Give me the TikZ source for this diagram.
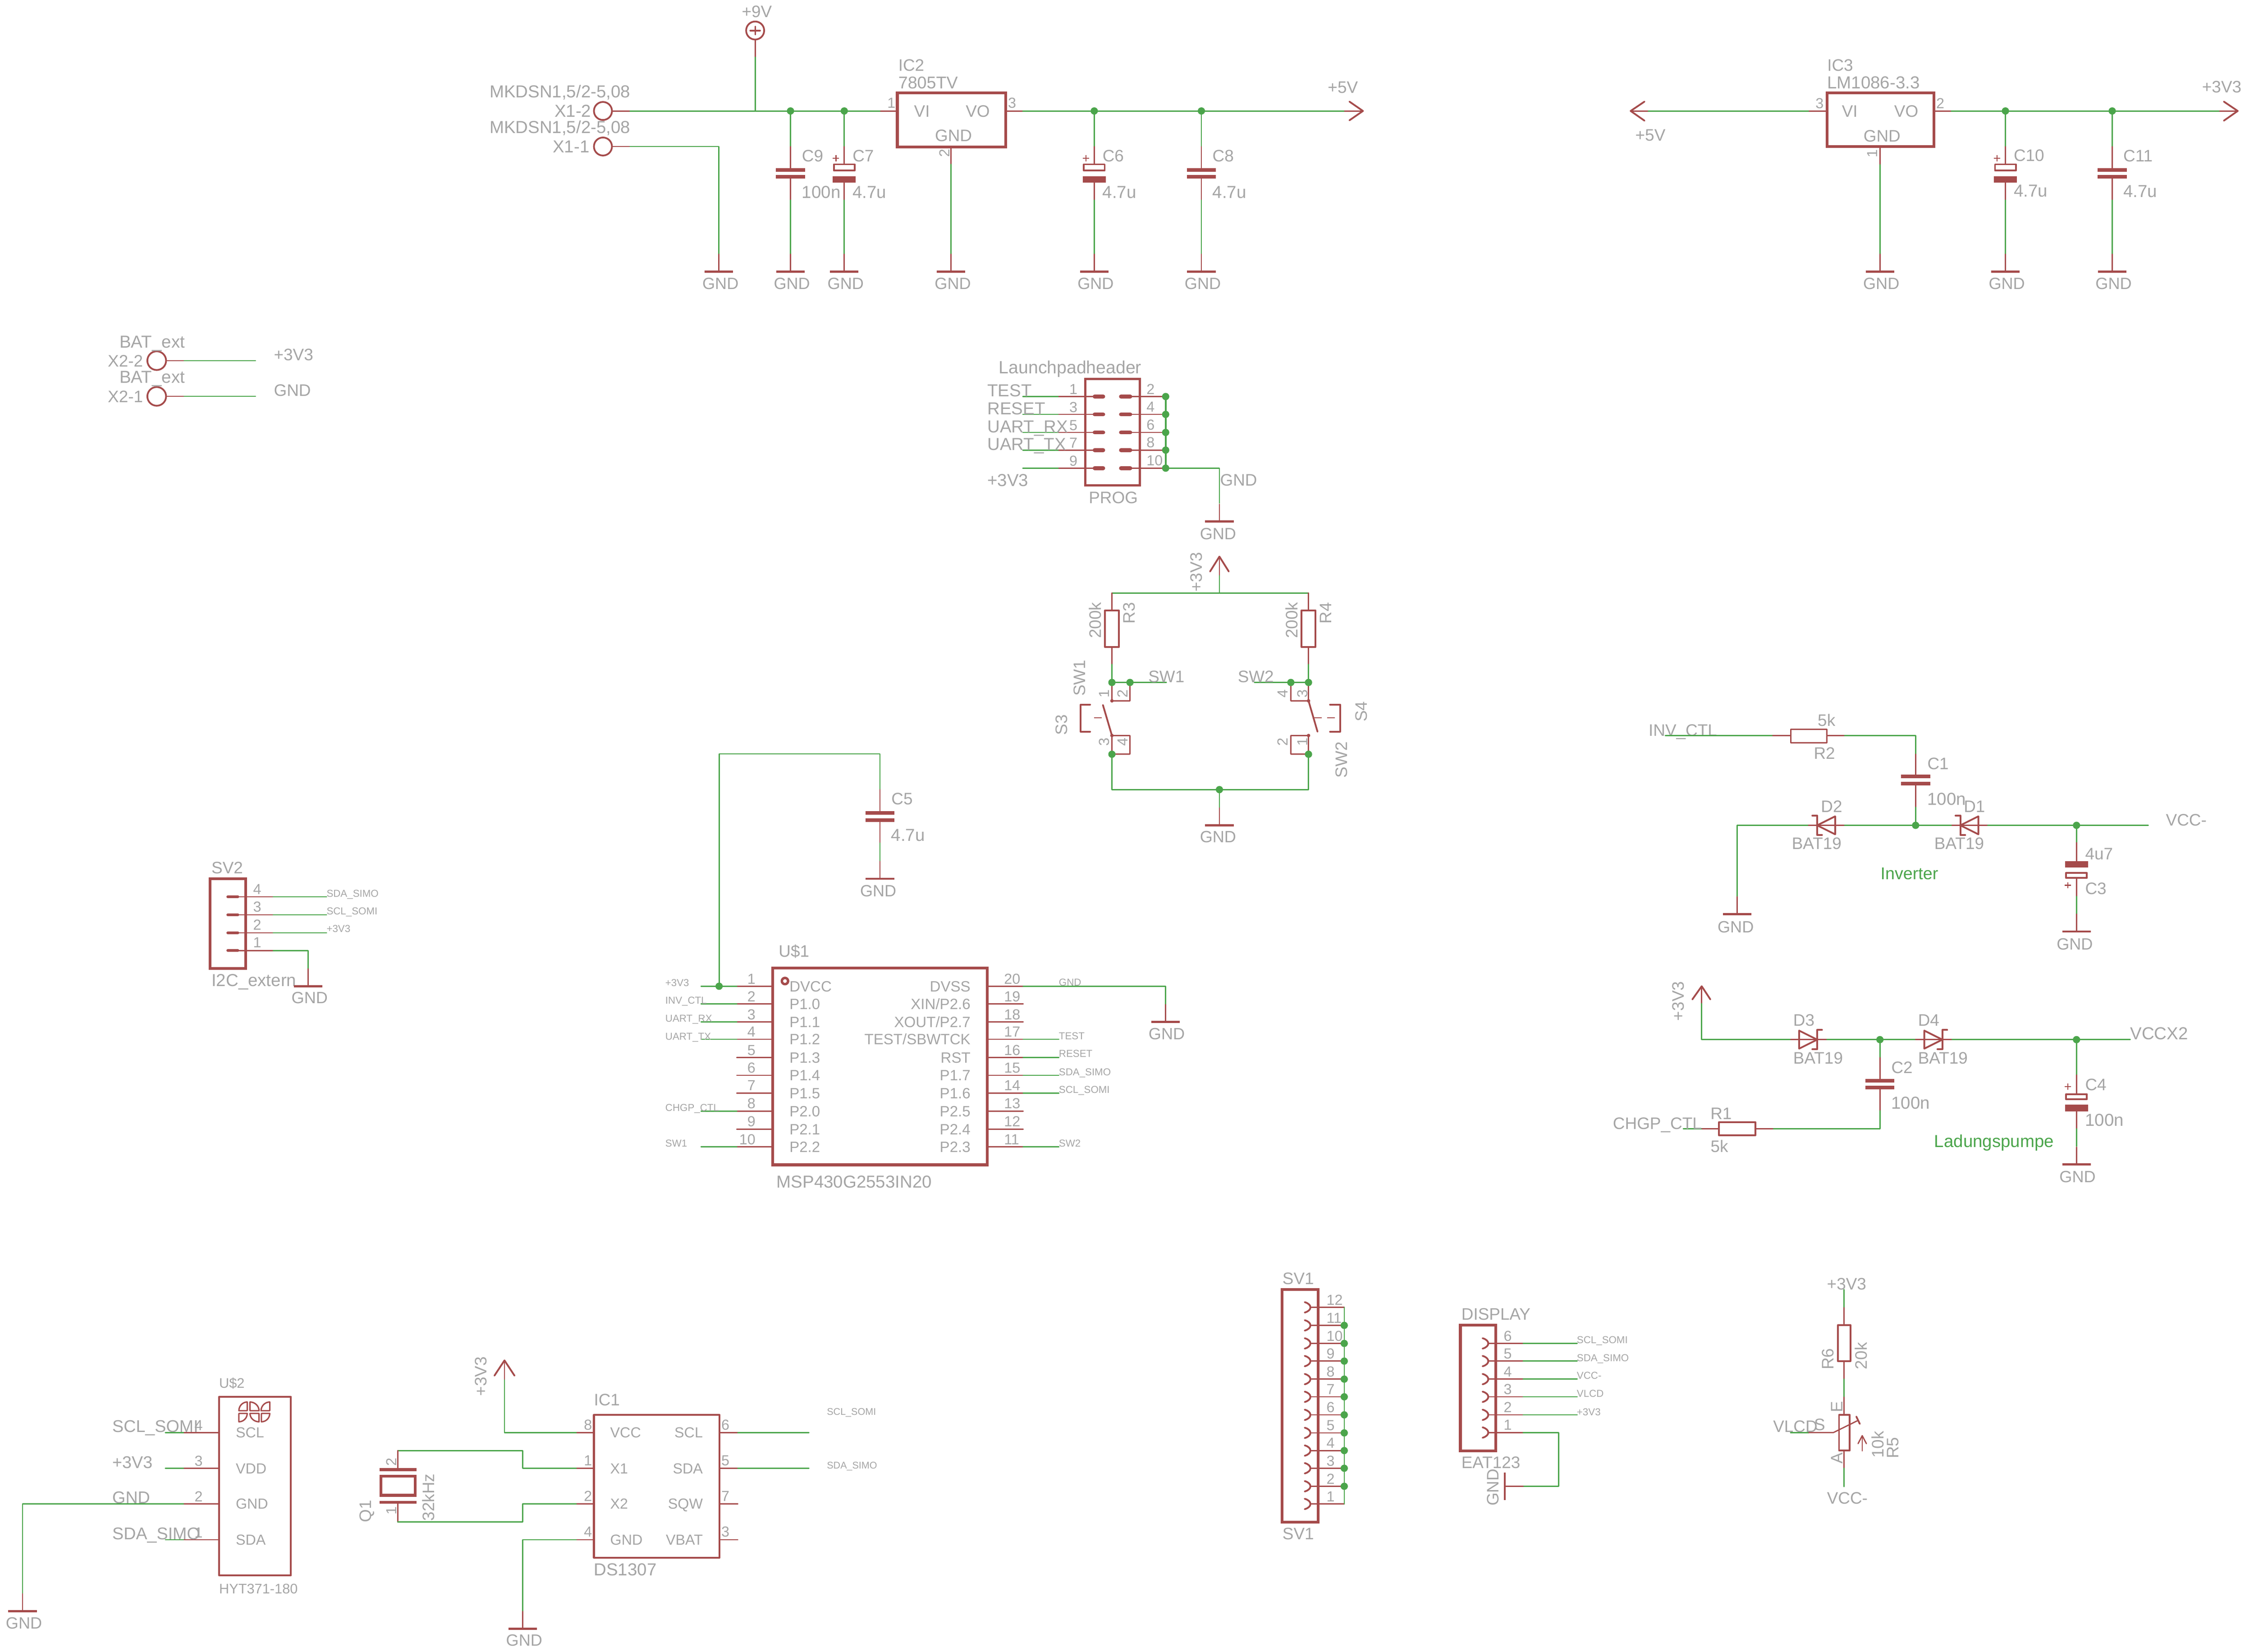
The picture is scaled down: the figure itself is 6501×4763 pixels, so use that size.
\documentclass[tikz,border=0pt]{standalone}
\usepackage{fontspec}
\setmainfont{Liberation Sans}
\definecolor{symred}{RGB}{165,75,75}
\definecolor{netgreen}{RGB}{75,165,75}
\definecolor{txtgray}{RGB}{165,165,165}
\newcounter{lbl}
\tikzset{
  wire/.style={draw=netgreen,line width=3.6,line cap=round,line join=round},
  pinl/.style={draw=symred,line width=3.6,line cap=round,line join=round},
  syma/.style={draw=symred,line width=5,line cap=round,line join=round},
  symb/.style={draw=symred,line width=8,line cap=round,line join=miter},
  plate/.style={draw=symred,line width=10.5},
  junc/.style={circle,fill=netgreen,draw=none,minimum size=21,inner sep=0},
  sdot/.style={circle,fill=symred,draw=none,minimum size=10,inner sep=0},
  txt/.style={inner sep=0,outer sep=0,text=txtgray,text depth=0pt}
}
\newcommand{\Tx}[5][48]{\stepcounter{lbl}\node[txt,anchor=#2,font=\fontsize{#1}{#1}\selectfont,text height=0.716*#1pt] (t\arabic{lbl}) at (#3,#4) {#5};}
\newcommand{\TxG}[4][49]{\stepcounter{lbl}\node[txt,text=netgreen,anchor=west,font=\fontsize{#1}{#1}\selectfont,text height=0.716*#1pt] (t\arabic{lbl}) at (#2,#3) {#4};}
\newcommand{\TxR}[4][48]{\stepcounter{lbl}\node[txt,rotate=90,font=\fontsize{#1}{#1}\selectfont,text height=0.716*#1pt] (t\arabic{lbl}) at (#2,#3) {#4};}
\newcommand{\Jn}[3]{\node[junc] (#1) at (#2,#3) {};}
\newcommand{\PlusS}[2]{\draw[symred,line width=3] (#1-9,#2)--(#1+9,#2);\draw[symred,line width=3] (#1,#2-9)--(#1,#2+9);}
% ground: x, bar y, label x, label y
\newcommand{\Gnd}[4]{\draw[pinl] (#1,#2-50)--(#1,#2);\draw[symred,line width=6] (#1-41,#2)--(#1+41,#2);\Tx[47]{center}{#3}{#4}{GND}}
\newcommand{\Cnp}[3]{\draw[plate] (#1-42,#2)--(#1+42,#2);\draw[plate] (#1-42,#3)--(#1+42,#3);}
% polar cap: x, hollow top, hollow bottom, filled top, filled bottom
\newcommand{\Cpol}[5]{\draw[syma] (#1-30,#2)rectangle(#1+30,#3);\fill[symred] (#1-33,#4)rectangle(#1+33,#5);}
\newcommand{\Dio}[3]{\draw[syma] (#1-52*#3,#2-26)--(#1-52*#3,#2+26)--(#1,#2)--cycle;\draw[syma] (#1+14*#3,#2-28)--(#1,#2-28)--(#1,#2+28)--(#1-14*#3,#2+28);}
\newcommand{\RailNP}[1]{\draw[wire] (#1,320)--(#1,423);\draw[pinl] (#1,423)--(#1,490);\Cnp{#1}{490}{510}\draw[pinl] (#1,510)--(#1,577);\draw[wire] (#1,577)--(#1,733);}
\newcommand{\RailPol}[1]{\draw[wire] (#1,320)--(#1,423);\draw[pinl] (#1,423)--(#1,472);\Cpol{#1}{474}{492}{508}{527}\draw[pinl] (#1,527)--(#1,577);\draw[wire] (#1,577)--(#1,733);\PlusS{#1-24}{456}}
\newcommand{\Sct}[6]{\draw[symred,line width=4,line join=round] (#1,#2)--(#3,#4) .. controls (#3+0.55*#5-0.55*#1,#4+0.55*#6-0.55*#2) and (#5+0.55*#3-0.55*#1,#6+0.55*#4-0.55*#2) .. (#5,#6)--cycle;}
\begin{document}
\begin{tikzpicture}[x=1pt,y=-1pt]
\path[use as bounding box,fill=white] (0,0) rectangle (6501,4763);
%% ---------- IC2 supply
\draw[symb] (2588,268) rectangle (2901,424);
\Tx{west}{2591}{187}{IC2}\Tx[49]{west}{2591}{238}{7805TV}
\Tx{center}{2659}{320}{VI}\Tx{center}{2820}{320}{VO}\Tx{center}{2750}{391}{GND}
\Tx[42]{center}{2571}{297}{1}\Tx[42]{center}{2919}{297}{3}\TxR[42]{2724}{442}{2}
\draw[syma] (1739,320) circle (26);\draw[syma] (1739,422.5) circle (26);
\Tx[50]{west}{1412}{264}{MKDSN1,5/2-5,08}\Tx[50]{west}{1412}{366}{MKDSN1,5/2-5,08}
\Tx[50]{east}{1705}{320}{X1-2}\Tx[50]{east}{1700}{422}{X1-1}
\draw[pinl] (1766,320)--(1817,320);\draw[wire] (1817,320)--(2540,320);\draw[pinl] (2540,320)--(2588,320);
\draw[pinl] (1766,422.5)--(1817,422.5);
\draw[wire] (1817,422.5)--(2073,422.5)--(2073,733);\Gnd{2073}{783}{2078}{817}
\draw[syma] (2178,88) circle (26);\draw[syma] (2164,88)--(2192,88);\draw[pinl] (2178,76)--(2178,100);
\draw[pinl] (2178,114)--(2178,165);\draw[wire] (2178,165)--(2178,320);
\Tx{center}{2183}{33}{+9V}
\draw[pinl] (2901,320)--(2950,320);\draw[wire] (2950,320)--(3878,320);\draw[pinl] (3878,320)--(3931,320);
\draw[syma] (3892,293)--(3931,320)--(3892,347);
\Tx{center}{3873}{251}{+5V}
\draw[pinl] (2743,424)--(2743,474);\draw[wire] (2743,474)--(2743,733);\Gnd{2743}{783}{2748}{817}
\RailNP{2280}\Gnd{2280}{783}{2284}{817}
\RailPol{2435}\Gnd{2435}{783}{2439}{817}
\RailPol{3156}\Gnd{3156}{783}{3160}{817}
\RailNP{3465}\Gnd{3465}{783}{3469}{817}
\Tx{west}{2313}{449}{C9}\Tx[50]{west}{2313}{553}{100n}
\Tx{west}{2459}{449}{C7}\Tx[50]{west}{2459}{553}{4.7u}
\Tx{west}{3180}{449}{C6}\Tx[50]{west}{3180}{553}{4.7u}
\Tx{west}{3497}{449}{C8}\Tx[50]{west}{3497}{553}{4.7u}
\Jn{j1}{2280}{320}\Jn{j2}{2435}{320}\Jn{j3}{3156}{320}\Jn{j4}{3465}{320}
%% ---------- IC3 supply
\draw[symb] (5270,268) rectangle (5578,423);
\Tx{west}{5270}{187}{IC3}\Tx[50]{west}{5270}{238}{LM1086-3.3}
\Tx{center}{5335}{320}{VI}\Tx{center}{5498}{320}{VO}\Tx{center}{5428}{392}{GND}
\Tx[42]{center}{5248}{298}{3}\Tx[42]{center}{5596}{298}{2}\TxR[42]{5400}{443}{1}
\draw[syma] (4743,293)--(4703,320)--(4743,348);
\draw[pinl] (4703,320)--(4754,320);\draw[wire] (4754,320)--(5218,320);\draw[pinl] (5218,320)--(5268,320);
\Tx{center}{4760}{389}{+5V}
\draw[pinl] (5578,320)--(5628,320);\draw[wire] (5628,320)--(6402,320);\draw[pinl] (6402,320)--(6454,320);
\draw[syma] (6414,293)--(6454,320)--(6414,348);
\Tx{center}{6408}{250}{+3V3}
\draw[pinl] (5422,423)--(5422,475);\draw[wire] (5422,475)--(5422,733);\Gnd{5422}{783}{5426}{817}
\RailPol{5784}\Gnd{5784}{783}{5788}{817}
\RailNP{6092}\Gnd{6092}{783}{6096}{817}
\Tx{west}{5808}{447}{C10}\Tx[50]{west}{5808}{550}{4.7u}
\Tx{west}{6124}{449}{C11}\Tx[50]{west}{6124}{551}{4.7u}
\Jn{j5}{5784}{320}\Jn{j6}{6092}{320}
%% ---------- BAT_ext
\draw[syma] (452,1040) circle (27);\draw[syma] (452,1143) circle (27);
\draw[pinl] (481,1040)--(531,1040);\draw[wire] (531,1040)--(737,1040);
\draw[pinl] (481,1143)--(531,1143);\draw[wire] (531,1143)--(737,1143);
\Tx[50]{west}{345}{985}{BAT\_ext}\Tx[50]{west}{345}{1087}{BAT\_ext}
\Tx{west}{311}{1040}{X2-2}\Tx{west}{311}{1143}{X2-1}
\Tx{west}{790}{1022}{+3V3}\Tx{west}{790}{1125}{GND}
%% ---------- Launchpad header
\draw[symb,line width=6.5] (3130,1093) rectangle (3287,1400);
\Tx[51]{west}{2881}{1059}{Launchpadheader}
\Tx{center}{3211}{1435}{PROG}
\foreach \y/\a/\b/\lb/\ly in {1143.5/1/2/TEST/1126,1195/3/4/RESET/1177,1247/5/6/UART\_RX/1230,1298/7/8/UART\_TX/1280,1350/9/10/+3V3/1384}{
  \draw[wire] (2950,\y)--(3054,\y);\draw[pinl] (3054,\y)--(3152,\y);
  \draw[symred,line width=11,line cap=round] (3157,\y)--(3182,\y);
  \draw[symred,line width=11,line cap=round] (3233,\y)--(3260,\y);
  \draw[pinl] (3265,\y)--(3362,\y);
  \Tx[42]{center}{3096}{\y-21}{\a}
  \Tx[42]{west}{3307}{\y-22}{\b}
  \Tx[50]{west}{2848}{\ly}{\lb}
}
\draw[wire,line width=5] (3362,1143.5)--(3362,1350);
\draw[wire] (3362,1350)--(3517,1350)--(3517,1451);
\Gnd{3517}{1504}{3513}{1539}
\Tx{west}{3519}{1384}{GND}
\foreach \i/\y in {a/1143.5,b/1195,c/1247,d/1298,e/1350}{\Jn{jp\i}{3362}{\y}}
%% ---------- switches
\draw[syma] (3490,1648)--(3517,1605)--(3544,1648);
\draw[pinl] (3517,1605)--(3517,1660);\draw[wire] (3517,1660)--(3517,1710);
\TxR{3450}{1650}{+3V3}
\draw[wire] (3207,1710)--(3774,1710);
\foreach \x/\n/\m/\nx/\mx in {3207/200k/R3/3159/3256,3774/200k/R4/3725/3823}{
  \draw[pinl] (\x,1710)--(\x,1760);
  \draw[syma] (\x-20,1760) rectangle (\x+20,1866);
  \draw[pinl] (\x,1866)--(\x,1916);\draw[wire] (\x,1916)--(\x,1968);
  \TxR{\nx}{1789}{\n}\TxR{\mx}{1768}{\m}
}
\draw[wire] (3207,1968)--(3364,1968);\draw[wire] (3618,1968)--(3774,1968);
\Tx{west}{3312}{1950}{SW1}\Tx{west}{3570}{1950}{SW2}
\draw[pinl] (3207,1968)--(3207,2021);\draw[pinl] (3259,1968)--(3259,2021)--(3207,2021);
\draw[pinl] (3207,2121)--(3207,2175);\draw[pinl] (3207,2121)--(3259,2121)--(3259,2175)--(3207,2175);
\draw[syma] (3181,2033)--(3207,2121);
\draw[pinl,dash pattern=on 22 off 16,line cap=butt] (3155,2070)--(3194,2070);
\draw[syma] (3144,2032)--(3117,2032)--(3117,2110)--(3144,2110);
\node[sdot] (sa) at (3207,2021) {};\node[sdot] (sb) at (3207,2121) {};
\TxR{3113}{1955}{SW1}\TxR{3061}{2090}{S3}
\TxR[42]{3184}{2000}{1}\TxR[42]{3238}{2000}{2}\TxR[42]{3184}{2140}{3}\TxR[42]{3238}{2140}{4}
\draw[pinl] (3774,1968)--(3774,2021);\draw[pinl] (3723,1968)--(3723,2021)--(3774,2021);
\draw[pinl] (3774,2121)--(3774,2175);\draw[pinl] (3774,2121)--(3723,2121)--(3723,2175)--(3774,2175);
\draw[syma] (3774,2021)--(3800,2110);
\draw[pinl,dash pattern=on 22 off 16,line cap=butt] (3790,2070)--(3858,2070);
\draw[syma] (3836,2032)--(3865,2032)--(3865,2110)--(3836,2110);
\node[sdot] (sc) at (3774,2021) {};\node[sdot] (sd) at (3774,2121) {};
\TxR{3869}{2191}{SW2}\TxR{3925}{2052}{S4}
\TxR[42]{3699}{2000}{4}\TxR[42]{3756}{2000}{3}\TxR[42]{3699}{2140}{2}\TxR[42]{3756}{2140}{1}
\draw[wire] (3207,2175)--(3207,2277)--(3774,2277)--(3774,2175);
\draw[wire] (3517,2277)--(3517,2333);\Gnd{3517}{2380}{3513}{2413}
\Jn{js1}{3207}{1968}\Jn{js2}{3259}{1968}\Jn{js3}{3774}{1968}\Jn{js4}{3723}{1968}
\Jn{js5}{3207}{2175}\Jn{js6}{3774}{2175}\Jn{js7}{3517}{2277}
%% ---------- Inverter
\Tx{west}{4755}{2105}{INV\_CTL}
\draw[wire] (4803,2121.5)--(5113,2121.5);\draw[pinl] (5113,2121.5)--(5165,2121.5);
\draw[syma] (5165,2103) rectangle (5269,2142);
\draw[pinl] (5269,2121.5)--(5320,2121.5);\draw[wire] (5320,2121.5)--(5525,2121.5)--(5525,2175);
\Tx{center}{5268}{2077}{5k}\Tx{center}{5262}{2172}{R2}
\draw[pinl] (5525,2175)--(5525,2239);\Cnp{5525}{2239}{2260}\draw[pinl] (5525,2260)--(5525,2328);\draw[wire] (5525,2328)--(5525,2380);
\Tx{west}{5559}{2201}{C1}\Tx[50]{west}{5559}{2304}{100n}
\draw[wire] (5010,2585)--(5010,2380)--(5216,2380);\Gnd{5010}{2636}{5006}{2672}
\draw[pinl] (5216,2380)--(5320,2380);\Dio{5241}{2380}{-1}
\draw[wire] (5320,2380)--(5630,2380);
\draw[pinl] (5630,2380)--(5733,2380);\Dio{5654}{2380}{-1}
\draw[wire] (5733,2380)--(6196,2380);
\Tx{west}{5252}{2325}{D2}\Tx{west}{5168}{2432}{BAT19}\Tx{west}{5664}{2325}{D1}\Tx{west}{5579}{2432}{BAT19}
\Tx{west}{6247}{2364}{VCC-}
\draw[wire] (5989,2380)--(5989,2430);\draw[pinl] (5989,2430)--(5989,2483);
\Cpol{5989}{2517}{2532}{2483}{2502}\draw[pinl] (5989,2534)--(5989,2585);\draw[wire] (5989,2585)--(5989,2636);
\Gnd{5989}{2686}{5984}{2722}
\Tx{west}{6014}{2461}{4u7}\Tx{west}{6014}{2562}{C3}\PlusS{5964}{2553}
\TxG{5424}{2518}{Inverter}
\Jn{ji1}{5525}{2380}\Jn{ji2}{5989}{2380}
%% ---------- Charge pump
\draw[syma] (4881,2882)--(4908,2844)--(4933,2882);
\draw[pinl] (4908,2844)--(4908,2894);\draw[wire] (4908,2894)--(4908,2998)--(5165,2998);
\TxR{4839}{2887}{+3V3}
\draw[pinl] (5165,2998)--(5269,2998);\Dio{5241}{2998}{1}
\draw[wire] (5269,2998)--(5525,2998);
\draw[pinl] (5525,2998)--(5630,2998);\Dio{5602}{2998}{1}
\draw[wire] (5630,2998)--(6144,2998);
\Tx{west}{5172}{2942}{D3}\Tx{west}{5172}{3050}{BAT19}\Tx{west}{5532}{2942}{D4}\Tx{west}{5532}{3050}{BAT19}
\Tx[50]{west}{6144}{2980}{VCCX2}
\draw[wire] (5422,2998)--(5422,3050);\draw[pinl] (5422,3050)--(5422,3116);\Cnp{5422}{3116}{3136}
\draw[pinl] (5422,3136)--(5422,3203);\draw[wire] (5422,3203)--(5422,3255)--(5113,3255);
\draw[pinl] (5113,3255)--(5063,3255);\draw[syma] (4958,3236) rectangle (5063,3274);
\draw[pinl] (4958,3255)--(4907,3255);\draw[wire] (4907,3255)--(4855,3255);
\Tx{west}{5455}{3078}{C2}\Tx[50]{west}{5455}{3180}{100n}
\Tx{center}{4964}{3210}{R1}\Tx{center}{4959}{3306}{5k}\Tx{west}{4652}{3239}{CHGP\_CTL}
\draw[wire] (5989,2998)--(5989,3100);\draw[pinl] (5989,3100)--(5989,3153);
\Cpol{5989}{3155}{3170}{3186}{3205}\draw[pinl] (5989,3205)--(5989,3255);\draw[wire] (5989,3255)--(5989,3306);
\Gnd{5989}{3358}{5992}{3393}
\Tx{west}{6014}{3127}{C4}\Tx[50]{west}{6014}{3229}{100n}\PlusS{5964}{3133}
\TxG[50]{5579}{3291}{Ladungspumpe}
\Jn{jc1}{5422}{2998}\Jn{jc2}{5989}{2998}
%% ---------- SV2
\draw[symb] (606,2534) rectangle (709,2793);
\Tx{west}{610}{2502}{SV2}\Tx[50]{west}{610}{2826}{I2C\_extern}
\foreach \n/\y/\ny in {4/2586/2564,3/2638/2615,2/2690/2666,1/2741/2717}{
  \draw[symred,line width=8,line cap=round] (657,\y)--(686,\y);
  \draw[pinl] (690,\y)--(788,\y);
  \Tx[42]{center}{742}{\ny}{\n}
}
\draw[wire] (788,2586)--(942,2586);\draw[wire] (788,2638)--(942,2638);\draw[wire] (788,2690)--(942,2690);
\draw[wire] (788,2741)--(889,2741)--(889,2794);\Gnd{889}{2844}{893}{2877}
\Tx[29]{west}{942}{2576}{SDA\_SIMO}\Tx[29]{west}{942}{2627}{SCL\_SOMI}\Tx[29]{west}{942}{2678}{+3V3}
%% ---------- C5
\draw[wire] (2074,2844)--(2074,2174)--(2538,2174)--(2538,2277);
\draw[pinl] (2538,2277)--(2538,2344);\Cnp{2538}{2344}{2365}\draw[pinl] (2538,2365)--(2538,2431);
\draw[wire] (2538,2431)--(2538,2483);\Gnd{2538}{2534}{2533}{2568}
\Tx{west}{2571}{2303}{C5}\Tx[50]{west}{2570}{2407}{4.7u}
%% ---------- MSP430
\draw[symb] (2229,2792) rectangle (2847,3359);
\draw[symred,line width=7] (2264,2829) circle (9);
\Tx{west}{2246}{2743}{U\$1}\Tx[50]{west}{2240}{3407}{MSP430G2553IN20}
\foreach \n/\y/\lb in {1/2844/DVCC,2/2895/P1.0,3/2947/P1.1,4/2997/P1.2,5/3050/P1.3,6/3101/P1.4,7/3152/P1.5,8/3204/P2.0,9/3256/P2.1,10/3307/P2.2}{
  \draw[pinl] (2125,\y)--(2229,\y);
  \Tx[43]{west}{2277}{\y}{\lb}
  \Tx[42]{east}{2179}{\y-22}{\n}
}
\foreach \n/\y/\lb in {20/2844/DVSS,19/2895/{XIN/P2.6},18/2947/{XOUT/P2.7},17/2997/{TEST/SBWTCK},16/3050/RST,15/3101/P1.7,14/3152/P1.6,13/3204/P2.5,12/3256/P2.4,11/3307/P2.3}{
  \draw[pinl] (2847,\y)--(2951,\y);
  \Tx[43]{east}{2799}{\y}{\lb}
  \Tx[42]{west}{2896}{\y-22}{\n}
}
\foreach \y in {2844,2895,2947,2997,3204,3307}{\draw[wire] (2022,\y)--(2125,\y);}
\foreach \y in {2997,3050,3101,3152,3307}{\draw[wire] (2951,\y)--(3054,\y);}
\draw[wire] (2951,2844)--(3362,2844)--(3362,2897);\Gnd{3362}{2947}{3365}{2981}
\Tx[29]{west}{1919}{2834}{+3V3}\Tx[29]{west}{1919}{2885}{INV\_CTL}\Tx[29]{west}{1919}{2936}{UART\_RX}
\Tx[29]{west}{1919}{2988}{UART\_TX}\Tx[29]{west}{1919}{3194}{CHGP\_CTL}\Tx[29]{west}{1919}{3297}{SW1}
\Tx[29]{west}{3054}{2833}{GND}\Tx[29]{west}{3054}{2987}{TEST}\Tx[29]{west}{3054}{3038}{RESET}
\Tx[29]{west}{3054}{3091}{SDA\_SIMO}\Tx[29]{west}{3054}{3142}{SCL\_SOMI}\Tx[29]{west}{3054}{3297}{SW2}
\Jn{jm}{2074}{2844}
%% ---------- U$2
\draw[syma,line width=5.5] (632,4028) rectangle (839,4543);
\Tx[40]{west}{632}{3988}{U\$2}\Tx[40]{west}{632}{4581}{HYT371-180}
\Sct{713}{4068}{689}{4068}{713}{4043}
\Sct{721}{4068}{721}{4043}{747}{4068}
\Sct{778}{4068}{753}{4068}{778}{4043}
\Sct{689}{4076}{713}{4076}{689}{4100}
\Sct{747}{4076}{721}{4076}{747}{4100}
\Sct{754}{4076}{778}{4076}{754}{4100}
\foreach \n/\y/\lb/\ex in {4/4131/SCL/SCL\_SOMI,3/4234/VDD/+3V3,2/4336.5/GND/GND,1/4440/SDA/SDA\_SIMO}{
  \draw[pinl] (529,\y)--(632,\y);
  \Tx[42]{west}{680}{\y}{\lb}
  \Tx[42]{center}{573}{\y-21}{\n}
  \Tx[49]{west}{324}{\y-18}{\ex}
}
\draw[wire] (477,4131)--(529,4131);\draw[wire] (477,4234)--(529,4234);\draw[wire] (477,4440)--(529,4440);
\draw[wire] (529,4336.5)--(65,4336.5)--(65,4595);\Gnd{65}{4646}{69}{4680}
%% ---------- IC1
\draw[syma,line width=5.5] (1713,4080) rectangle (2075,4492);
\Tx{west}{1713}{4036}{IC1}\Tx[50]{west}{1713}{4525}{DS1307}
\foreach \n/\m/\y/\a/\b in {8/6/4131/VCC/SCL,1/5/4234/X1/SDA,2/7/4336.5/X2/SQW,4/3/4440/GND/VBAT}{
  \draw[pinl] (1662,\y)--(1713,\y);\draw[pinl] (2075,\y)--(2128,\y);
  \Tx[42]{west}{1760}{\y}{\a}\Tx[42]{east}{2027}{\y}{\b}
  \Tx[42]{center}{1696}{\y-23}{\n}\Tx[42]{center}{2092}{\y-23}{\m}
}
\draw[wire] (1662,4131)--(1455,4131)--(1455,3977);\draw[pinl] (1455,3977)--(1455,3923);
\draw[syma] (1426,3967)--(1455,3923)--(1484,3967);
\TxR{1386}{3969}{+3V3}
\draw[wire] (1662,4234)--(1508,4234)--(1508,4183)--(1147,4183);
\draw[pinl] (1147,4183)--(1147,4238);
\draw[symred,line width=8] (1095,4238)--(1202,4238);\draw[symred,line width=8] (1095,4332)--(1202,4332);
\draw[symb] (1099,4257) rectangle (1198,4312);
\draw[pinl] (1147,4332)--(1147,4389);
\draw[wire] (1147,4389)--(1508,4389)--(1508,4336.5)--(1662,4336.5);
\TxR{1054}{4358}{Q1}\TxR{1235}{4318}{32kHz}\TxR[42]{1128}{4216}{2}\TxR[42]{1128}{4356}{1}
\draw[wire] (1662,4440)--(1508,4440)--(1508,4646);\Gnd{1508}{4697}{1512}{4729}
\draw[wire] (2128,4131)--(2333,4131);\draw[wire] (2128,4234)--(2333,4234);
\Tx[28]{west}{2385}{4070}{SCL\_SOMI}\Tx[28]{west}{2385}{4225}{SDA\_SIMO}
%% ---------- SV1
\draw[symb] (3698,3719) rectangle (3802,4389);
\Tx{west}{3699}{3686}{SV1}\Tx{west}{3699}{4422}{SV1}
\foreach \n/\y in {12/3770,11/3822,10/3874,9/3925,8/3977,7/4028,6/4080,5/4132,4/4183,3/4234,2/4286,1/4337}{
  \draw[syma] (3763,\y-15) .. controls (3785,\y-9) and (3785,\y+9) .. (3763,\y+15);
  \draw[pinl] (3782,\y)--(3877,\y);
  \Tx[42]{west}{3826}{\y-22}{\n}
}
\draw[wire] (3877,3770)--(3877,4337);
\foreach \y in {3822,3874,3925,3977,4028,4080,4132,4183,4234,4286}{\node[junc] (jv\y) at (3877,\y) {};}
%% ---------- DISPLAY
\draw[symb] (4212,3821) rectangle (4314,4184);
\Tx{west}{4215}{3789}{DISPLAY}\Tx{west}{4215}{4217}{EAT123}
\foreach \n/\y in {6/3874,5/3925,4/3977,3/4028,2/4080,1/4131}{
  \draw[syma] (4276,\y-15) .. controls (4298,\y-9) and (4298,\y+9) .. (4276,\y+15);
  \draw[pinl] (4295,\y)--(4393,\y);
  \Tx[42]{west}{4337}{\y-22}{\n}
}
\foreach \y in {3874,3925,3977,4028,4080}{\draw[wire] (4393,\y)--(4549,\y);}
\Tx[29]{west}{4548}{3864}{SCL\_SOMI}\Tx[29]{west}{4548}{3915}{SDA\_SIMO}\Tx[29]{west}{4548}{3966}{VCC-}
\Tx[29]{west}{4548}{4018}{VLCD}\Tx[29]{west}{4548}{4071}{+3V3}
\draw[wire] (4393,4131)--(4495,4131)--(4495,4286)--(4393,4286);
\draw[pinl] (4393,4286)--(4340,4286);\draw[symred,line width=5] (4340,4246)--(4340,4326);
\TxR{4305}{4289}{GND}
%% ---------- R6 / R5
\Tx{center}{5326}{3702}{+3V3}
\draw[wire] (5318,3719)--(5318,3771);\draw[pinl] (5318,3771)--(5318,3821);
\draw[syma] (5301,3821) rectangle (5337,3925);
\draw[pinl] (5318,3925)--(5318,3977);\draw[wire] (5318,3977)--(5318,4029);\draw[pinl] (5318,4029)--(5318,4080);
\draw[syma] (5304,4080) rectangle (5335,4183);
\draw[pinl] (5318,4183)--(5318,4234);\draw[wire] (5318,4234)--(5318,4287);
\Tx{center}{5328}{4319}{VCC-}
\TxR{5271}{3919}{R6}\TxR{5367}{3910}{20k}\TxR{5297}{4057}{E}\TxR{5297}{4205}{A}
\TxR{5415}{4166}{10k}\TxR{5458}{4175}{R5}
\Tx{center}{5248}{4108}{S}\Tx{west}{5114}{4113}{VLCD}
\draw[wire] (5164,4131)--(5217,4131);\draw[pinl] (5217,4131)--(5288,4131)--(5359,4096);
\draw[syma] (5354,4085)--(5364,4106);
\draw[pinl] (5371,4184)--(5371,4140);\draw[pinl] (5359,4163)--(5371,4140)--(5383,4163);
\end{tikzpicture}
\end{document}
